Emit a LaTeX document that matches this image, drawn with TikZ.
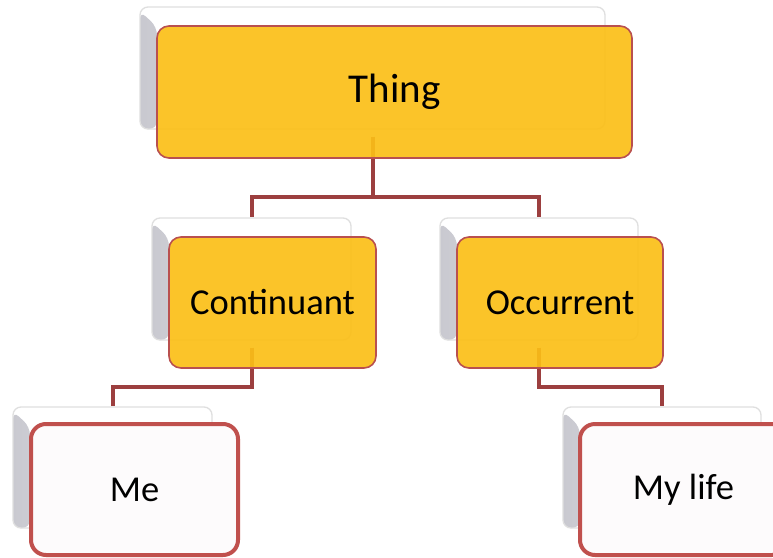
\documentclass[tikz,border=0pt]{standalone}
\usepackage{fontspec}
\setmainfont{Carlito}
\usetikzlibrary{calc}
\definecolor{gold}{HTML}{FBBF17}
\definecolor{goldedge}{HTML}{B9504F}
\definecolor{rededge}{HTML}{C0504D}
\definecolor{connred}{HTML}{9C3F3F}
\definecolor{paper}{HTML}{FDFBFC}
\definecolor{shadeout}{HTML}{C9C9D0}
\definecolor{shadein}{HTML}{EDEDF0}
\tikzset{
  shadowbox/.style={rectangle, rounded corners=8pt, draw=gray!25, line width=1.3pt,
    fill=white, inner sep=0pt,
    path picture={
      \shade[left color=shadeout, right color=shadein]
        ($(path picture bounding box.north west)+(0,-4pt)$) --
        ($(path picture bounding box.north west)+(17pt,-20pt)$) --
        ($(path picture bounding box.south west)+(17pt,0)$) --
        (path picture bounding box.south west) -- cycle;}},
  goldbox/.style={rectangle, rounded corners=12pt, draw=goldedge, line width=1.6pt,
    fill=gold, fill opacity=0.92, text opacity=1, inner sep=0pt,
    font=\fontsize{36.5}{40}\selectfont},
  whitebox/.style={rectangle, rounded corners=15pt, draw=rededge, line width=4pt,
    fill=paper, inner sep=0pt, font=\fontsize{36.5}{40}\selectfont},
  conn/.style={draw=connred, line width=4pt}
}
\begin{document}
\begin{tikzpicture}[x=1pt,y=-1pt]
\clip (0,0) rectangle (773,557);
\fill[white] (0,0) rectangle (773,557);
% shadow boxes
\node[shadowbox, minimum width=465pt, minimum height=122pt] (thingS) at (372.5,68) {};
\node[shadowbox, minimum width=199pt, minimum height=122pt] (contS) at (251.5,279) {};
\node[shadowbox, minimum width=198pt, minimum height=122pt] (occS) at (539,279) {};
\node[shadowbox, minimum width=199pt, minimum height=121pt] (meS) at (112.5,467.5) {};
\node[shadowbox, minimum width=198pt, minimum height=121pt] (lifeS) at (662,467.5) {};
% connectors
\coordinate (bus1) at (0,197);
\coordinate (bus2) at (0,387);
\draw[conn] ([yshift=-7pt]thingS.south) -- (thingS.south |- bus1) -| (contS.north);
\draw[conn] (thingS.south |- bus1) -| (occS.north);
\draw[conn] ([yshift=-7pt]contS.south) -- (contS.south |- bus2) -| (meS.north);
\draw[conn] ([yshift=-7pt]occS.south) -- (occS.south |- bus2) -| (lifeS.north);
% main boxes
\node[goldbox, minimum width=475pt, minimum height=132pt, font=\fontsize{41}{45}\selectfont] (thing) at (394.5,92) {Thing};
\node[goldbox, minimum width=207pt, minimum height=131pt] (cont) at (272.5,302.5) {Continuant};
\node[goldbox, minimum width=206pt, minimum height=131pt] (occ) at (560,302.5) {Occurrent};
\node[whitebox, minimum width=207pt, minimum height=131pt] (me) at (134.5,489.5) {Me};
\node[whitebox, minimum width=207pt, minimum height=131pt] (life) at (683.5,489.5) {My life};
\end{tikzpicture}
\end{document}
